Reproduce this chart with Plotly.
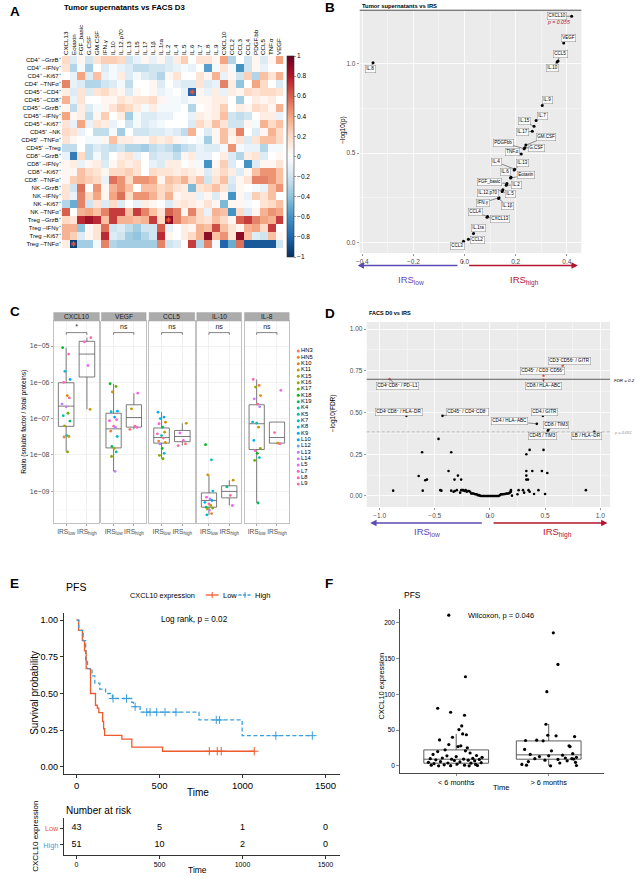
import math
import plotly.graph_objects as go

W, H = 636, 879
FONT = "Liberation Sans, Arial, Helvetica, sans-serif"


def fx(p):
    return p / W


def fy(p):
    return 1 - p / H


# ======================= DATA =======================
# ---- Panel A: correlation heatmap ----
HEAT_COLS = ["CXCL13", "Eotaxin", "FGF_basic", "G.CSF", "GM.CSF", "IFN.γ", "IL.10", "IL.12.p70",
             "IL.13", "IL.15", "IL.17", "IL.1β", "IL.1ra", "IL.2", "IL.4", "IL.5", "IL.6", "IL.7",
             "IL.8", "IL.9", "CXCL10", "CCL2", "CCL3", "CCL4", "PDGF.bb", "CCL5", "TNF.α", "VEGF"]
HEAT_ROWS = ["CD4⁺ –GrzB⁺", "CD4⁺ –IFNγ⁺", "CD4⁺ –Ki67⁺", "CD4⁺ –TNFα⁺", "CD45⁺ –CD4⁺",
             "CD45⁺ –CD8⁺", "CD45⁺ –GrzB⁺", "CD45⁺ –IFNγ⁺", "CD45⁺ –Ki67⁺", "CD45⁺ –NK",
             "CD45⁺ –TNFα⁺", "CD45⁺ –Treg", "CD8⁺ –GrzB⁺", "CD8⁺ –IFNγ⁺", "CD8⁺ –Ki67⁺",
             "CD8⁺ –TNFα⁺", "NK –GrzB⁺", "NK –IFNγ⁺", "NK –Ki67⁺", "NK –TNFα⁺", "Treg –GrzB⁺",
             "Treg –IFNγ⁺", "Treg –Ki67⁺", "Treg –TNFα⁺"]
HEAT_R = [
    [0.2, -0.15, 0.05, -0.2, 0.15, 0.25, 0.25, 0.2, -0.2, -0.1, 0.05, -0.1, 0.05, -0.15, 0.1, 0.25, 0, 0.15, 0.15, 0.05, 0.4, -0.3, 0, -0.2, 0.05, -0.15, 0.05, 0.4],
    [0.15, -0.3, -0.05, -0.35, 0, -0.15, -0.05, -0.1, -0.15, -0.25, -0.25, -0.2, -0.2, -0.15, -0.1, -0.05, -0.1, 0, -0.55, -0.05, 0.15, -0.05, -0.6, -0.2, 0.05, -0.1, 0, 0],
    [0, -0.1, 0.4, -0.15, 0.3, -0.1, -0.05, 0.1, -0.15, -0.05, -0.15, -0.2, -0.3, 0.05, 0.15, 0, 0, 0.15, 0.05, 0.35, -0.1, 0.05, -0.2, 0.25, -0.3, 0.3, 0.15, 0.35],
    [0.5, -0.1, -0.15, -0.3, -0.3, -0.2, -0.15, -0.05, -0.25, 0, 0, 0.05, -0.15, 0, -0.1, -0.15, -0.15, 0.15, -0.15, -0.1, 0.5, 0.1, -0.4, 0, 0.4, 0.2, 0, -0.15],
    [0.1, -0.15, 0.15, -0.15, 0.15, 0.2, 0.1, 0.05, -0.15, 0.05, 0, 0.05, -0.1, -0.05, 0, -0.1, -0.8, 0.05, -0.1, 0.1, -0.1, 0.1, 0.05, 0.2, 0.15, 0.2, 0.2, 0.15],
    [0.35, -0.1, 0.15, 0, 0, 0.05, 0.05, 0.15, 0.1, 0.15, 0.15, 0.2, 0.05, -0.05, -0.05, -0.1, -0.05, 0.05, 0.05, 0.1, 0.1, 0, -0.35, 0, 0.1, 0.05, 0.1, 0],
    [0.05, -0.25, 0.1, -0.15, -0.05, 0.05, 0.15, 0.25, 0.2, 0.1, -0.05, 0.1, -0.05, -0.05, -0.05, 0, -0.3, 0, 0.05, 0.1, 0.25, 0, 0.1, 0.05, 0.2, 0.15, 0.05, 0.35],
    [0.4, 0.05, 0.1, -0.25, 0.05, 0.25, 0, 0.1, -0.35, -0.05, -0.15, -0.15, -0.1, -0.1, 0, 0, -0.1, 0.1, 0.05, 0.1, 0.3, -0.2, -0.25, -0.2, 0, 0.1, 0.1, -0.1],
    [0.15, -0.1, 0.4, -0.1, 0.15, 0.1, -0.1, 0, -0.2, -0.05, -0.15, -0.1, -0.05, 0, 0, 0, -0.15, 0.2, 0.1, 0.3, 0.15, -0.2, -0.2, 0.05, -0.05, 0.35, 0.2, 0.3],
    [0.2, 0.15, -0.1, 0, -0.25, -0.25, -0.05, -0.35, 0, -0.2, -0.2, -0.15, -0.15, -0.1, -0.15, -0.25, 0.35, 0, -0.15, 0.05, 0.3, 0.1, 0.5, 0, -0.15, 0.05, 0.35, 0.2],
    [0.15, 0.05, 0, -0.05, -0.05, 0.05, 0.3, 0.1, 0.1, 0.05, 0.05, 0.15, 0.1, 0.15, 0.05, -0.05, 0, -0.05, -0.35, 0.05, 0.3, 0.05, 0.15, -0.15, 0.15, 0.3, 0.3, 0.2],
    [-0.25, -0.25, 0, -0.25, -0.15, -0.2, -0.25, -0.2, -0.3, -0.3, -0.35, -0.25, -0.2, -0.25, -0.35, -0.25, -0.2, -0.1, -0.15, -0.15, -0.05, 0.45, -0.05, -0.1, -0.1, -0.3, -0.05, -0.05],
    [-0.1, -0.7, 0.2, -0.25, -0.05, -0.2, 0, 0.1, 0.15, -0.1, 0, -0.2, -0.15, -0.15, -0.25, 0.05, 0.1, -0.1, -0.1, 0, 0.1, -0.15, -0.3, 0.1, 0.15, -0.15, 0, 0.05],
    [0.05, 0.1, -0.1, 0.05, 0.1, -0.15, 0.05, 0.15, 0.1, 0.15, 0, -0.1, -0.15, 0.1, 0.1, 0, 0.05, -0.05, -0.6, 0.05, 0.25, -0.15, 0, -0.6, -0.15, 0.05, 0.05, 0.15],
    [0.05, 0.05, 0.3, 0.2, 0.15, 0.05, 0.2, 0.2, 0.25, 0.15, 0, 0.2, 0.15, 0.15, 0.1, 0.15, 0.1, 0.05, -0.15, 0.1, 0.2, 0.1, -0.15, 0.05, 0.3, 0.45, 0.45, 0.3],
    [0.05, 0.25, 0.3, 0.25, 0.2, -0.1, 0.55, 0.45, 0.2, 0.45, 0.45, 0.4, 0.05, 0.3, 0.25, 0.35, 0.15, 0.3, -0.2, 0.15, 0.3, -0.15, 0.05, 0.15, 0.5, 0.5, 0.45, 0.3],
    [0.15, -0.2, 0.55, 0, 0.45, 0.05, 0.35, 0.45, 0.3, 0, 0.3, 0.3, 0.2, 0.25, 0.15, 0.1, -0.45, 0.15, 0.2, 0.3, 0.15, -0.2, 0.05, 0, -0.05, -0.1, 0.3, 0.45],
    [0.15, -0.1, 0.5, 0.2, 0.4, 0.05, 0.4, 0.55, 0.2, 0.45, 0.45, 0.35, 0.2, 0.35, 0.05, 0.1, 0.1, -0.1, 0.05, -0.15, 0.05, -0.6, 0.05, -0.1, 0.25, 0.15, 0.3, 0],
    [-0.3, -0.5, 0.5, -0.2, 0.15, -0.15, 0.2, -0.15, 0, -0.1, 0.1, 0.05, 0, -0.15, 0.1, 0.15, 0.1, 0.05, 0.15, 0.05, -0.45, 0.05, 0.05, -0.05, 0, 0.15, 0.2, 0.3],
    [0.6, 0, 0.35, 0.4, 0.3, 0.5, 0.7, 0.7, 0.3, 0.7, 0.5, 0.3, 0.15, 0.6, 0.5, 0.05, 0.5, 0.2, -0.1, 0.35, 0.3, -0.6, 0.2, -0.15, 0.05, 0.35, 0.45, 0.4],
    [0.2, 0.15, 0.75, 0.85, 0.75, 0.3, 0.7, 0.35, 0.35, 0.3, 0.35, 0.7, 0.2, 0.9, 0.5, 0.35, 0.3, 0.2, 0.15, 0.3, 0.2, 0.05, 0.6, 0.7, 0.5, 0.4, 0.35, 0.7],
    [0.35, 0.35, -0.4, 0.05, 0.15, 0.55, -0.2, -0.15, -0.25, -0.35, -0.2, -0.2, 0.6, -0.1, 0, 0.1, 0.05, 0.35, 0.3, 0.65, 0.3, 0.15, 0.05, 0.35, 0.4, 0.2, 0.7, 0],
    [0.35, 0.25, -0.15, 0.05, 0.15, 0.75, -0.15, -0.2, -0.35, -0.4, -0.3, -0.2, 0.75, 0.05, 0, 0.1, 0.2, 0.35, 0.9, 0.3, 0.45, 0.15, 0.9, 0.3, -0.15, -0.2, 0.3, 0.05],
    [0.1, -0.95, -0.35, -0.35, -0.05, 0.5, -0.3, -0.35, -0.35, -0.35, -0.35, -0.35, 0.5, -0.2, -0.15, 0, 0.7, -0.3, 0.5, -0.05, -0.8, -0.5, 0.55, -0.85, -0.85, -0.85, -0.85, -0.2],
]
HEAT_STAR_ROWS = ["CD45⁺ –CD4⁺", "Treg –GrzB⁺", "Treg –TNFα⁺"]
HEAT_STAR_COLS = ["IL.6", "IL.2", "Eotaxin"]
HEAT_CB_TICKS = [1, 0.8, 0.6, 0.4, 0.2, 0, -0.2, -0.4, -0.6, -0.8, -1]

# ---- Panel B: tumor supernatants vs IRS ----
B_NAMES = ["CXCL10", "VEGF", "CCL5", "IL.10", "IL.8", "IL.9", "IL.7", "IL.15", "IL.17", "GM.CSF",
           "G.CSF", "PDGFbb", "TNF.α", "IL.4", "IL.13", "IL.6", "Eotaxin", "FGF_basic", "IL.2",
           "IL.12.p70", "IL.5", "IFN.γ", "IL.1β", "CCL4", "CXCL13", "IL.1ra", "CCL2", "CCL3"]
B_R = [0.419, 0.388, 0.366, 0.362, -0.358, 0.304, 0.280, 0.272, 0.265, 0.240, 0.236, 0.233, 0.222,
       0.196, 0.194, 0.182, 0.180, 0.166, 0.163, 0.150, 0.147, 0.135, 0.133, 0.090, 0.088, 0.035,
       0.015, -0.004]
B_NLOGP = [1.267, 1.117, 1.017, 1.010, 1.006, 0.767, 0.683, 0.650, 0.622, 0.545, 0.530, 0.525,
           0.495, 0.410, 0.405, 0.365, 0.360, 0.330, 0.320, 0.295, 0.285, 0.250, 0.245, 0.145,
           0.140, 0.050, 0.017, 0.006]
B_P_THRESHOLD = 0.05
B_TOP_P_TEXT = "p = 0.055"

# ---- Panel C: soluble factors per IRS group ----
C_FACETS = ["CXCL10", "VEGF", "CCL5", "IL-10", "IL-8"]
C_SIG = ["*", "ns", "ns", "ns", "ns"]
SAMPLES = ["HN3", "HN5", "K10", "K11", "K15", "K16", "K17", "K18", "K19", "K4", "K5", "K7", "K8",
           "K9", "L10", "L12", "L13", "L14", "L5", "L7", "L8", "L9"]
C_LOW_VALS = {
    "CXCL10": [9.0e-6, 6.0e-6, 2.0e-6, 1.2e-6, 1.0e-6, 4.3e-7, 3.7e-7, 2.5e-7, 2.1e-7, 1.4e-7, 1.2e-7, 8.5e-8, 6.3e-8, 3.4e-8, 3.2e-8, 3.1e-8, 1.2e-8],
    "VEGF": [9.1e-7, 7.7e-7, 5.4e-7, 1.6e-7, 1.55e-7, 1.1e-7, 9.3e-8, 8.7e-8, 6.2e-8, 5.8e-8, 4.5e-8, 3.2e-8, 1.7e-8, 1.5e-8, 1.2e-8, 9.0e-9, 3.5e-9],
    "CCL5": [1.5e-7, 1.1e-7, 1.0e-7, 7.9e-8, 7.2e-8, 5.8e-8, 4.2e-8, 3.8e-8, 3.4e-8, 2.9e-8, 2.4e-8, 2.2e-8, 2.0e-8, 1.5e-8, 1.1e-8, 9.6e-9, 7.8e-9],
    "IL-10": [1.9e-8, 7.3e-9, 2.8e-9, 1.0e-9, 6.8e-10, 6.1e-10, 5.5e-10, 4.9e-10, 4.4e-10, 4.0e-10, 3.6e-10, 3.4e-10, 3.2e-10, 3.0e-10, 2.4e-10, 2.2e-10],
    "IL-8": [1.2e-6, 8.2e-7, 7.4e-7, 4.3e-7, 3.5e-7, 2.5e-7, 2.1e-7, 8.0e-8, 7.5e-8, 5.8e-8, 2.5e-8, 1.5e-8, 1.3e-8, 1.1e-8, 8.4e-9, 7.0e-9, 4.7e-10],
}
C_LOW_SAMPLES = {
    "CXCL10": ["K18", "L7", "K8", "L10", "L8", "K10", "L9", "L13", "L14", "K17", "K5", "K19", "K15", "K7", "K11", "HN5", "K16"],
    "VEGF": ["K18", "K17", "K10", "K9", "K8", "L10", "L8", "L7", "L9", "L14", "HN5", "K7", "K19", "K15", "K5", "K16", "L13"],
    "CCL5": ["K9", "L10", "K8", "K10", "L7", "K19", "K15", "L8", "K5", "L9", "HN5", "K11", "L13", "K18", "K7", "K16", "K17"],
    "IL-10": ["K18", "K5", "K10", "K8", "L7", "L13", "L10", "K9", "L8", "K15", "K19", "K17", "K16", "L14", "HN5", "K7"],
    "IL-8": ["L8", "HN5", "K15", "K10", "L14", "L9", "L13", "K8", "K5", "K11", "K9", "K16", "L7", "K18", "K7", "K17", "K19"],
}
C_HIGH_VALS = {
    "CXCL10": [1.7e-5, 1.3e-5, 2.9e-6, 1.8e-7],
    "VEGF": [5.0e-7, 1.85e-7, 6.2e-8, 5.7e-8, 5.0e-8],
    "CCL5": [7.4e-8, 4.0e-8, 2.5e-8, 2.0e-8, 1.8e-8],
    "IL-10": [2.0e-9, 1.3e-9, 7.6e-10, 4.0e-10],
    "IL-8": [6.0e-7, 4.1e-8, 2.1e-8, 2.0e-8],
}
C_HIGH_SAMPLES = {
    "CXCL10": ["L9", "L7", "L5", "K11"],
    "VEGF": ["L5", "K11", "L9", "L7", "HN3"],
    "CCL5": ["K11", "L5", "L7", "HN3", "L9"],
    "IL-10": ["K11", "K4", "L9", "L5"],
    "IL-8": ["L5", "L9", "K11", "L7"],
}
# box statistics: lower whisker, q1, median, q3, upper whisker
C_BOX_LOW = {
    "CXCL10": [1.2e-8, 6.1e-8, 2.2e-7, 9.7e-7, 9.0e-6],
    "VEGF": [3.5e-9, 1.55e-8, 5.2e-8, 1.4e-7, 9.1e-7],
    "CCL5": [7.8e-9, 2.1e-8, 3.0e-8, 5.5e-8, 1.5e-7],
    "IL-10": [2.2e-10, 3.6e-10, 5.5e-10, 8.9e-10, 2.8e-9],
    "IL-8": [4.7e-10, 1.4e-8, 7.2e-8, 2.4e-7, 1.2e-6],
}
C_BOX_HIGH = {
    "CXCL10": [1.8e-7, 1.4e-6, 6.0e-6, 1.35e-5, 1.7e-5],
    "VEGF": [5.0e-8, 5.8e-8, 1.07e-7, 2.4e-7, 5.0e-7],
    "CCL5": [1.8e-8, 2.3e-8, 3.2e-8, 4.7e-8, 7.4e-8],
    "IL-10": [4.0e-10, 6.5e-10, 9.8e-10, 1.4e-9, 2.0e-9],
    "IL-8": [2.0e-8, 2.1e-8, 3.0e-8, 8.0e-8, 8.0e-8],
}

# ---- Panel D: FACS D0 vs IRS ----
D_LAB_NAMES = ["CD3⁺CD56⁺ / GITR", "CD45⁺ / CD3⁻CD56⁺", "CD8 / HLA−ABC", "CD4⁺CD8⁺ / PD−L1",
               "CD4⁺CD8⁺ / HLA−DR", "CD45⁺ / CD4⁻CD8⁻", "CD4 / GITR", "CD4 / HLA−ABC",
               "CD8 / TIM3", "CD45 / TIM3", "LB / HLA−DR"]
D_LAB_R = [0.658, 0.486, 0.486, -0.91, -0.757, -0.43, 0.48, 0.425, 0.53, 0.525, 0.946]
D_LAB_Y = [0.780, 0.720, 0.696, 0.700, 0.480, 0.480, 0.480, 0.432, 0.396, 0.390, 0.384]
D_LAB_SIG = [True, True, True, True, False, False, False, False, False, False, False]
D_LEFT_R = [-0.877, -0.646, -0.615, -0.609, -0.586, -0.571, -0.466, -0.45, -0.44, -0.375, -0.351,
            -0.351, -0.33, -0.321, -0.318, -0.30, -0.29, -0.27, -0.261, -0.26, -0.25, -0.24, -0.23,
            -0.22, -0.21, -0.20, -0.19, -0.18]
D_LEFT_Y = [0.032, 0.120, 0.262, 0.032, 0.094, 0.098, 0.342, 0.035, 0.032, 0.150, 0.262, 0.032,
            0.025, 0.098, 0.030, 0.035, 0.122, 0.020, 0.098, 0.035, 0.035, 0.035, 0.030, 0.035,
            0.025, 0.030, 0.030, 0.025]
D_MID_R = [-0.17, -0.16, -0.15, -0.14, -0.13, -0.12, -0.11, -0.10, -0.09, -0.08, -0.07, -0.06,
           -0.05, -0.04, -0.03, -0.02, -0.01, 0.00, 0.01, 0.02, 0.03, 0.04, 0.05, 0.06, 0.07, 0.08,
           0.09, 0.10, 0.11, 0.12, 0.13, 0.14, 0.15, 0.16, 0.17, 0.18, 0.19]
D_MID_Y = [0.015, 0.015, 0.015, 0.012, 0.010, 0.010, 0.005, 0.005, 0.002, 0.0, 0.0, 0.0, 0.0,
           0.0, 0.0, 0.0, 0.0, 0.0, 0.0, 0.0, 0.0, 0.0, 0.0, 0.0, 0.0, 0.0, 0.005, 0.010, 0.010,
           0.010, 0.012, 0.012, 0.015, 0.015, 0.015, 0.020, 0.025]
D_RIGHT_R = [0.19, 0.20, 0.25, 0.26, 0.30, 0.31, 0.33, 0.33, 0.33, 0.33, 0.345, 0.35, 0.36, 0.36,
             0.384, 0.40, 0.44, 0.471, 0.486, 0.50, 0.52, 0.87]
D_RIGHT_Y = [0.035, 0.002, 0.010, 0.035, 0.035, 0.020, 0.250, 0.150, 0.122, 0.098, 0.098, 0.035,
             0.276, 0.025, 0.150, 0.012, 0.035, 0.150, 0.276, 0.012, 0.138, 0.035]
D_FDR = 0.2
D_DASH_LEVEL = 0.384
D_DASH_TEXT = "p = 0.051"

# ---- Panel E: Kaplan-Meier PFS ----
KM_LOW_T = [0, 12, 35, 48, 58, 84, 114, 125, 134, 157, 163, 169, 273, 333, 518, 1071]
KM_LOW_S = [1.0, 0.93, 0.86, 0.79, 0.67, 0.50, 0.42, 0.40, 0.37, 0.31, 0.26, 0.215, 0.19, 0.135, 0.107, 0.107]
KM_LOW_CENSOR = [800, 848, 872, 1071]
KM_HIGH_T = [0, 14, 40, 55, 66, 93, 110, 140, 175, 216, 333, 343, 383, 738, 998, 1421]
KM_HIGH_S = [1.0, 0.93, 0.86, 0.72, 0.67, 0.62, 0.57, 0.53, 0.50, 0.466, 0.44, 0.41, 0.373, 0.32, 0.213, 0.213]
KM_HIGH_CENSOR = [220, 301, 353, 423, 443, 483, 533, 599, 842, 862, 1201, 1421]
RISK_TIMES = [0, 500, 1000, 1500]
RISK_LOW = [43, 5, 1, 0]
RISK_HIGH = [51, 10, 2, 0]

# ---- Panel F: CXCL10 by PFS group ----
F_GROUPS = ["&lt; 6 months", "&gt; 6 months"]
F_SHORT_Y = [210.9, 124.7, 80.6, 75.0, 70.8, 55.9, 50.7, 44.7, 43.5, 40.0, 36.3, 29.8, 28.0, 27.0,
             25.2, 22.5, 21.0, 20.0, 18.0, 16.0, 14.5, 14.0, 13.0, 12.0, 11.0, 10.5, 10.0, 9.5, 9.3,
             9.0, 8.5, 8.0, 7.5, 7.0, 6.0, 5.5, 5.0, 4.5, 4.0, 3.7, 3.0, 2.5, 2.0, 1.5, 1.0, 1.0,
             0.5, 0.3, 0.0, 0.0]
F_SHORT_DX = [-0.08, 0.10, -0.20, -0.06, 0.09, 0.06, 0.03, 0.07, 0.11, -0.04, -0.18, -0.08, 0.05,
              0.02, 0.12, -0.12, 0.1, -0.2, 0.15, -0.25, 0.22, -0.1, 0.0, 0.28, -0.15, 0.18, -0.28,
              0.08, -0.05, 0.25, -0.22, 0.13, -0.02, 0.2, -0.17, 0.04, -0.3, 0.27, -0.09, 0.16,
              -0.24, 0.01, 0.21, -0.13, 0.09, -0.27, 0.23, -0.06, 0.14, -0.19]
F_LONG_Y = [186.2, 142.0, 103.8, 58.2, 42.8, 42.0, 41.0, 36.0, 35.5, 35.0, 28.0, 27.0, 23.0, 21.0,
            17.0, 16.0, 15.0, 14.0, 13.0, 12.0, 11.0, 10.0, 10.0, 9.5, 9.0, 8.0, 7.0, 6.0, 5.0,
            4.0, 2.0, 1.0, 0.5, 0.0]
F_LONG_DX = [0.05, 0.10, -0.02, -0.03, -0.01, 0.08, 0.28, -0.13, -0.25, -0.06, 0.22, 0.23, -0.26,
             0.03, 0.26, -0.2, 0.15, 0.0, -0.1, 0.3, 0.18, -0.15, 0.25, 0.27, 0.1, -0.04, 0.2,
             -0.22, 0.29, 0.12, -0.29, -0.24, 0.3, 0.02]
F_BOX_SHORT = [0.0, 3.7, 9.3, 22.3, 44.7]
F_BOX_LONG = [0.0, 9.3, 15.4, 34.9, 58.7]


# ======================= STYLE HELPERS =======================
def hcl_hex(h, c=100.0, l=65.0):
    hr = math.radians(h)
    u, v = c * math.cos(hr), c * math.sin(hr)
    xn, yn, zn = 95.047, 100.0, 108.883
    un = 4 * xn / (xn + 15 * yn + 3 * zn)
    vn = 9 * yn / (xn + 15 * yn + 3 * zn)
    yy = yn * ((l + 16) / 116) ** 3
    up, vp = u / (13 * l) + un, v / (13 * l) + vn
    xx = yy * 9 * up / (4 * vp)
    zz = yy * (12 - 3 * up - 20 * vp) / (4 * vp)
    x, y, z = xx / 100, yy / 100, zz / 100
    r = 3.2406 * x - 1.5372 * y - 0.4986 * z
    g = -0.9689 * x + 1.8758 * y + 0.0415 * z
    b = 0.0557 * x - 0.2040 * y + 1.0570 * z

    def gam(t):
        t = 12.92 * t if t <= 0.0031308 else 1.055 * (max(t, 0) ** (1 / 2.4)) - 0.055
        return int(max(0, min(255, round(t * 255))))
    return "#%02x%02x%02x" % (gam(r), gam(g), gam(b))


SAMPLE_COLORS = {s: hcl_hex(15 + 360 * i / len(SAMPLES)) for i, s in enumerate(SAMPLES)}
RDBU = [[0.0, "#053061"], [0.1, "#2166AC"], [0.2, "#4393C3"], [0.3, "#92C5DE"], [0.4, "#D1E5F0"],
        [0.5, "#FFFFFF"], [0.6, "#FDDBC7"], [0.7, "#F4A582"], [0.8, "#D6604D"], [0.9, "#B2182B"],
        [1.0, "#67001F"]]
LOW_COL = "#5B4BB3"
HIGH_COL = "#B3152E"
KM_LOW_COL = "#EF5A2B"
KM_HIGH_COL = "#3A9FDB"
GRAY_TXT = "#4D4D4D"

fig = go.Figure()
annotations = []
shapes = []
layout = dict(width=W, height=H, autosize=False, margin=dict(l=0, r=0, t=0, b=0),
              paper_bgcolor="white", plot_bgcolor="white", hovermode=False,
              font=dict(family=FONT, color="#000"), showlegend=False)


def note(xp, yp, text, size, color="#000", xanchor="left", yanchor="middle", angle=0):
    annotations.append(dict(x=fx(xp), y=fy(yp), xref="paper", yref="paper", text=text,
                            showarrow=False, font=dict(size=size, color=color, family=FONT),
                            xanchor=xanchor, yanchor=yanchor, textangle=angle))


def fmt_neg(v, nd):
    s = f"{v:.{nd}f}"
    return s.replace("-", "−")


# ======================= PANEL A =======================
fig.add_trace(go.Heatmap(
    z=HEAT_R, x=HEAT_COLS, y=HEAT_ROWS, zmin=-1, zmax=1, colorscale=RDBU, xaxis="x", yaxis="y",
    hoverinfo="skip", showscale=True,
    colorbar=dict(x=fx(285), xanchor="left", y=fy(56), yanchor="top", len=(257 - 56) / H,
                  lenmode="fraction", thickness=7, thicknessmode="pixels",
                  tickvals=HEAT_CB_TICKS,
                  ticktext=[fmt_neg(v, 1).replace(".0", "") if v in (0, 1, -1) else fmt_neg(v, 1) for v in HEAT_CB_TICKS],
                  tickfont=dict(size=6.5, color="#000"), ticks="outside", ticklen=2,
                  tickwidth=0.5, outlinewidth=0.6, outlinecolor="#333", xpad=0, ypad=0)))
fig.add_trace(go.Scatter(x=HEAT_STAR_COLS, y=HEAT_STAR_ROWS, mode="markers", xaxis="x", yaxis="y",
                         marker=dict(symbol="asterisk-open", size=4.5,
                                     line=dict(color="white", width=1)),
                         showlegend=False, hoverinfo="skip"))
layout["xaxis"] = dict(domain=[fx(58), fx(281)], anchor="y", side="top", tickangle=-90,
                       tickfont=dict(size=6.2, color="#000"), showgrid=False, zeroline=False,
                       ticks="", type="category", range=[-0.5, len(HEAT_COLS) - 0.5])
layout["yaxis"] = dict(domain=[fy(257), fy(56)], anchor="x", autorange="reversed",
                       tickfont=dict(size=6, color="#000"), showgrid=False, zeroline=False,
                       ticks="", type="category")
note(4, 12, "<b>A</b>", 13.5)
note(58, 8, "<b>Tumor supernatants vs FACS D3</b>", 7.8)

# ======================= PANEL B =======================
shapes.append(dict(type="rect", xref="x2 domain", yref="y2 domain", x0=0, x1=1, y0=0, y1=1,
                   fillcolor="#EBEBEB", line=dict(width=0), layer="below"))
fig.add_trace(go.Scatter(x=B_R, y=B_NLOGP, mode="markers", xaxis="x2", yaxis="y2",
                         marker=dict(size=3, color="#000"), showlegend=False, hoverinfo="skip"))
shapes.append(dict(type="line", xref="x2 domain", yref="y2", x0=0, x1=1,
                   y0=-math.log10(B_P_THRESHOLD), y1=-math.log10(B_P_THRESHOLD),
                   line=dict(color="#555555", width=1.3)))
B_OFFSETS = [(-15, 0), (5, -5), (2, -7), (-5, 6), (-3, 6), (5, -5), (6, -4), (-10, -5), (-10, 1),
             (20, -8), (12, 0), (-21, -6), (-9, -2), (-18, -7), (8, -7), (-6, -5), (15, -3),
             (-17, -1), (10, 0), (-15, 3), (8, 3), (-16, 5), (9, 7), (-12, -4), (13, 2), (5, -5),
             (9, 1), (-6, 5)]
for name, r, yv, (dx, dy) in zip(B_NAMES, B_R, B_NLOGP, B_OFFSETS):
    annotations.append(dict(x=r, y=yv, xref="x2", yref="y2", text=name, showarrow=True,
                            ax=dx, ay=dy, arrowhead=0, arrowwidth=0.5, arrowcolor="#222",
                            standoff=0, font=dict(size=4.5, color="#000", family=FONT),
                            bgcolor="#FAFAFA", bordercolor="#8C8C8C", borderwidth=0.5,
                            borderpad=0.8))
layout["xaxis2"] = dict(domain=[fx(358), fx(581)], anchor="y2", range=[-0.41, 0.457],
                        tickvals=[-0.4, -0.2, 0, 0.2, 0.4],
                        ticktext=[fmt_neg(v, 1) for v in [-0.4, -0.2, 0, 0.2, 0.4]],
                        showgrid=True, gridcolor="white", gridwidth=0.8, zeroline=False,
                        ticks="outside", ticklen=2, tickwidth=0.5, tickcolor="#333",
                        tickfont=dict(size=6.5, color=GRAY_TXT),
                        minor=dict(tickvals=[-0.3, -0.1, 0.1, 0.3], showgrid=True,
                                   gridcolor="white", gridwidth=0.4))
layout["yaxis2"] = dict(domain=[fy(253), fy(9.5)], anchor="x2", range=[-0.06, 1.305],
                        tickvals=[0, 0.5, 1.0], ticktext=["0.0", "0.5", "1.0"],
                        showgrid=True, gridcolor="white", gridwidth=0.8, zeroline=False,
                        ticks="outside", ticklen=2, tickwidth=0.5, tickcolor="#333",
                        tickfont=dict(size=6.5, color=GRAY_TXT),
                        minor=dict(tickvals=[0.25, 0.75], showgrid=True, gridcolor="white",
                                   gridwidth=0.4))
note(321, 8, "<b>B</b>", 13.5)
note(358, 6, "<b>Tumor supernatants vs IRS</b>", 5.8)
note(558, 22, "<i>" + B_TOP_P_TEXT + "</i>", 5.2, color="#B3152E", xanchor="center")
note(341, 130, "−log10(p)", 6.5, angle=-90, xanchor="center")
note(462, 262, "r", 5, xanchor="center")
bar_y = (253 - 265.5) / (253 - 9.5)
annotations.append(dict(x=-0.418, y=bar_y, xref="x2", yref="y2 domain", ax=-0.022, ay=bar_y,
                        axref="x2", ayref="y2 domain", text="", showarrow=True, arrowhead=2,
                        arrowsize=0.9, arrowwidth=1.4, arrowcolor=LOW_COL, standoff=0))
annotations.append(dict(x=0.443, y=bar_y, xref="x2", yref="y2 domain", ax=0.012, ay=bar_y,
                        axref="x2", ayref="y2 domain", text="", showarrow=True, arrowhead=2,
                        arrowsize=0.9, arrowwidth=1.4, arrowcolor=HIGH_COL, standoff=0))
note(410, 280, "IRS<sub>low</sub>", 9.5, color=LOW_COL, xanchor="center")
note(524, 280, "IRS<sub>high</sub>", 9.5, color=HIGH_COL, xanchor="center")

# ======================= PANEL C =======================
C_FACET_PX = [(50, 96), (98, 143), (146, 192), (194, 239), (242, 287)]
JITTER = [-0.17, 0.12, -0.06, 0.19, -0.12, 0.05, 0.15, -0.2, 0.0, 0.09, -0.14, 0.18, -0.08, 0.03,
          0.13, -0.1, 0.07, -0.16]
LOG_TICKS = [1e-9, 1e-8, 1e-7, 1e-6, 1e-5]
LOG_TEXT = ["1e−09", "1e−08", "1e−07", "1e−06", "1e−05"]
LOG_MINOR = [10 ** -9.5, 10 ** -8.5, 10 ** -7.5, 10 ** -6.5, 10 ** -5.5, 10 ** -4.5]
for fi, fac in enumerate(C_FACETS):
    n = 3 + fi
    xa, ya = f"x{n}", f"y{n}"
    x0, x1 = C_FACET_PX[fi]
    layout[f"xaxis{n}"] = dict(domain=[fx(x0), fx(x1)], anchor=ya, range=[0.4, 2.6],
                               tickvals=[1, 2], ticktext=["IRS<sub>low</sub>", "IRS<sub>high</sub>"],
                               tickangle=0, tickfont=dict(size=6.6, color=GRAY_TXT), showgrid=True,
                               gridcolor="#EBEBEB", gridwidth=0.7, zeroline=False, showline=True,
                               mirror=True, linecolor="#B3B3B3", linewidth=0.8, ticks="outside",
                               ticklen=2, tickwidth=0.5, tickcolor=GRAY_TXT)
    layout[f"yaxis{n}"] = dict(domain=[fy(523), fy(321)], anchor=xa, type="log",
                               range=[-9.88, -4.31], tickvals=LOG_TICKS, ticktext=LOG_TEXT,
                               showticklabels=(fi == 0), tickfont=dict(size=7, color=GRAY_TXT),
                               showgrid=True, gridcolor="#EBEBEB", gridwidth=0.7, zeroline=False,
                               showline=True, mirror=True, linecolor="#B3B3B3", linewidth=0.8,
                               ticks="outside" if fi == 0 else "", ticklen=2, tickwidth=0.5,
                               tickcolor=GRAY_TXT,
                               minor=dict(tickvals=LOG_MINOR, showgrid=True, gridcolor="#F4F4F4",
                                          gridwidth=0.4))
    groups = [(C_LOW_VALS[fac], C_LOW_SAMPLES[fac], C_BOX_LOW[fac]),
              (C_HIGH_VALS[fac], C_HIGH_SAMPLES[fac], C_BOX_HIGH[fac])]
    for gi, (vals, samps, box) in enumerate(groups):
        pos = gi + 1
        fig.add_trace(go.Box(x=[pos], lowerfence=[box[0]], q1=[box[1]], median=[box[2]],
                             q3=[box[3]], upperfence=[box[4]], width=0.75, whiskerwidth=0,
                             fillcolor="rgba(255,255,255,0)", line=dict(color="#5A5A5A", width=0.8),
                             boxpoints=False, xaxis=xa, yaxis=ya, showlegend=False,
                             hoverinfo="skip"))
        xs = [pos + JITTER[(i + 3 * gi) % len(JITTER)] for i in range(len(vals))]
        fig.add_trace(go.Scatter(x=xs, y=vals, mode="markers", xaxis=xa, yaxis=ya,
                                 marker=dict(size=2.8, color=[SAMPLE_COLORS[s] for s in samps]),
                                 showlegend=False, hoverinfo="skip"))
    top, bot, lab = 10 ** -4.63, 10 ** -4.69, 10 ** -4.47
    fig.add_trace(go.Scatter(x=[1, 1, 2, 2], y=[bot, top, top, bot], mode="lines", xaxis=xa,
                             yaxis=ya, line=dict(color="#333", width=0.6), showlegend=False,
                             hoverinfo="skip"))
    fig.add_trace(go.Scatter(x=[1.5], y=[lab], mode="text", text=[C_SIG[fi]], xaxis=xa, yaxis=ya,
                             textfont=dict(size=7, color="#222", family=FONT), showlegend=False,
                             hoverinfo="skip"))
    shapes.append(dict(type="rect", xref="paper", yref="paper", x0=fx(x0), x1=fx(x1), y0=fy(321),
                       y1=fy(312.5), fillcolor="#ABABAB", line=dict(color="#ABABAB", width=0.5)))
    note((x0 + x1) / 2, 316.8, fac, 6.6, color="#1A1A1A", xanchor="center")

# legend of samples
fig.add_trace(go.Scatter(x=[0] * len(SAMPLES), y=list(range(len(SAMPLES))), mode="markers+text",
                         text=SAMPLES, textposition="middle right",
                         textfont=dict(size=5.8, color="#000", family=FONT),
                         marker=dict(size=3, color=[SAMPLE_COLORS[s] for s in SAMPLES]),
                         xaxis="x8", yaxis="y8", showlegend=False, hoverinfo="skip"))
layout["xaxis8"] = dict(domain=[fx(294), fx(330)], anchor="y8", range=[-0.5, 8], visible=False)
layout["yaxis8"] = dict(domain=[fy(490), fy(345)], anchor="x8",
                        range=[len(SAMPLES) - 1 + 0.95, -0.95], visible=False)
note(4, 312, "<b>C</b>", 13.5)
note(20, 422, "Ratio (soluble factor / total proteins)", 6.6, angle=-90, xanchor="center")

# ======================= PANEL D =======================
shapes.append(dict(type="rect", xref="x9 domain", yref="y9 domain", x0=0, x1=1, y0=0, y1=1,
                   fillcolor="#EBEBEB", line=dict(width=0), layer="below"))
fdr_level = -math.log10(D_FDR)
shapes.append(dict(type="line", xref="x9 domain", yref="y9", x0=0, x1=1, y0=fdr_level,
                   y1=fdr_level, line=dict(color="#5E5E5E", width=1)))
shapes.append(dict(type="line", xref="x9 domain", yref="y9", x0=0, x1=1, y0=D_DASH_LEVEL,
                   y1=D_DASH_LEVEL, line=dict(color="#A0A0A0", width=0.6, dash="3px,2px")))
for rr, yy in [(D_LEFT_R, D_LEFT_Y), (D_MID_R, D_MID_Y), (D_RIGHT_R, D_RIGHT_Y)]:
    fig.add_trace(go.Scatter(x=rr, y=yy, mode="markers", xaxis="x9", yaxis="y9",
                             marker=dict(size=2.6, color="#000"), showlegend=False,
                             hoverinfo="skip"))
fig.add_trace(go.Scatter(x=D_LAB_R, y=D_LAB_Y, mode="markers", xaxis="x9", yaxis="y9",
                         marker=dict(size=2.6, color=["#F0605A" if s else "#000" for s in D_LAB_SIG]),
                         showlegend=False, hoverinfo="skip"))
D_OFFSETS = [(7, -5), (-1, -5), (0, 6), (8, 7), (-7, -4), (25, -4), (2, -4), (-27, -3), (8, -5),
             (-5, 5), (-8, 4)]
for name, r, yv, (dx, dy) in zip(D_LAB_NAMES, D_LAB_R, D_LAB_Y, D_OFFSETS):
    annotations.append(dict(x=r, y=yv, xref="x9", yref="y9", text=name, showarrow=True, ax=dx,
                            ay=dy, arrowhead=0, arrowwidth=0.5, arrowcolor="#222", standoff=0,
                            font=dict(size=4.6, color="#000", family=FONT), bgcolor="#FAFAFA",
                            bordercolor="#8C8C8C", borderwidth=0.5, borderpad=0.8))
layout["xaxis9"] = dict(domain=[fx(365), fx(610)], anchor="y9", range=[-1.117, 1.09],
                        tickvals=[-1, -0.5, 0, 0.5, 1],
                        ticktext=[fmt_neg(v, 1) for v in [-1, -0.5, 0, 0.5, 1]],
                        showgrid=True, gridcolor="white", gridwidth=0.8, zeroline=False,
                        ticks="outside", ticklen=2, tickwidth=0.5, tickcolor="#333",
                        tickfont=dict(size=6.5, color=GRAY_TXT),
                        minor=dict(tickvals=[-0.75, -0.25, 0.25, 0.75], showgrid=True,
                                   gridcolor="white", gridwidth=0.4))
layout["yaxis9"] = dict(domain=[fy(507), fy(322)], anchor="x9", range=[-0.066, 1.042],
                        tickvals=[0, 0.25, 0.5, 0.75, 1.0],
                        ticktext=["0.00", "0.25", "0.50", "0.75", "1.00"],
                        showgrid=True, gridcolor="white", gridwidth=0.8, zeroline=False,
                        ticks="outside", ticklen=2, tickwidth=0.5, tickcolor="#333",
                        tickfont=dict(size=6.5, color=GRAY_TXT),
                        minor=dict(tickvals=[0.125, 0.375, 0.625, 0.875], showgrid=True,
                                   gridcolor="white", gridwidth=0.4))
note(321, 313, "<b>D</b>", 13.5)
note(365, 313, "<b>FACS D0 vs IRS</b>", 5.5)
note(612, 380, "<i>FDR = 0.2</i>", 4.4)
note(612, 432, "<i>" + D_DASH_TEXT + "</i>", 4, color="#8A8A8A")
note(331, 413, "−log10(FDR)", 6.5, angle=-90, xanchor="center")
note(488, 516, "r", 5, xanchor="center")
bar_y9 = (507 - 523) / (507 - 322)
annotations.append(dict(x=-1.085, y=bar_y9, xref="x9", yref="y9 domain", ax=-0.06, ay=bar_y9,
                        axref="x9", ayref="y9 domain", text="", showarrow=True, arrowhead=2,
                        arrowsize=0.9, arrowwidth=1.4, arrowcolor=LOW_COL, standoff=0))
annotations.append(dict(x=1.065, y=bar_y9, xref="x9", yref="y9 domain", ax=0.02, ay=bar_y9,
                        axref="x9", ayref="y9 domain", text="", showarrow=True, arrowhead=2,
                        arrowsize=0.9, arrowwidth=1.4, arrowcolor=HIGH_COL, standoff=0))
note(426, 532, "IRS<sub>low</sub>", 9.5, color=LOW_COL, xanchor="center")
note(557, 532, "IRS<sub>high</sub>", 9.5, color=HIGH_COL, xanchor="center")


# ======================= PANEL E =======================
def surv_at(ts, ss, t):
    s = ss[0]
    for ti, si in zip(ts, ss):
        if ti <= t:
            s = si
    return s


fig.add_trace(go.Scatter(x=KM_LOW_T, y=KM_LOW_S, mode="lines", line_shape="hv", xaxis="x10",
                         yaxis="y10", line=dict(color=KM_LOW_COL, width=1.3), showlegend=False,
                         hoverinfo="skip"))
fig.add_trace(go.Scatter(x=KM_HIGH_T, y=KM_HIGH_S, mode="lines", line_shape="hv", xaxis="x10",
                         yaxis="y10", line=dict(color=KM_HIGH_COL, width=1.3, dash="4px,2.5px"),
                         showlegend=False, hoverinfo="skip"))
fig.add_trace(go.Scatter(x=KM_LOW_CENSOR, y=[surv_at(KM_LOW_T, KM_LOW_S, t) for t in KM_LOW_CENSOR],
                         mode="markers", xaxis="x10", yaxis="y10",
                         marker=dict(symbol="cross-thin", size=6, line=dict(color=KM_LOW_COL, width=1)),
                         showlegend=False, hoverinfo="skip"))
fig.add_trace(go.Scatter(x=KM_HIGH_CENSOR, y=[surv_at(KM_HIGH_T, KM_HIGH_S, t) for t in KM_HIGH_CENSOR],
                         mode="markers", xaxis="x10", yaxis="y10",
                         marker=dict(symbol="cross-thin", size=6, line=dict(color=KM_HIGH_COL, width=1)),
                         showlegend=False, hoverinfo="skip"))
# manual legend (title, keys, labels)
note(125, 595, "CXCL10 expression", 7.3)
shapes.append(dict(type="line", xref="paper", yref="paper", x0=fx(203), x1=fx(216), y0=fy(595),
                   y1=fy(595), line=dict(color=KM_LOW_COL, width=1.3)))
shapes.append(dict(type="line", xref="paper", yref="paper", x0=fx(236), x1=fx(249), y0=fy(595),
                   y1=fy(595), line=dict(color=KM_HIGH_COL, width=1.3, dash="3px,1.5px")))
shapes.append(dict(type="line", xref="paper", yref="paper", x0=fx(209.5), x1=fx(209.5),
                   y0=fy(592), y1=fy(598), line=dict(color=KM_LOW_COL, width=1)))
shapes.append(dict(type="line", xref="paper", yref="paper", x0=fx(242.5), x1=fx(242.5),
                   y0=fy(592), y1=fy(598), line=dict(color=KM_HIGH_COL, width=1)))
note(218, 595, "Low", 7.5)
note(251, 595, "High", 7.5)

km_axis_common = dict(showline=True, linecolor="#000", linewidth=0.8, ticks="outside", ticklen=3,
                      tickwidth=0.8, tickcolor="#000", showgrid=False, zeroline=False)
layout["xaxis10"] = dict(domain=[fx(60), fx(338)], anchor="y10", range=[-78, 1587],
                         tickvals=RISK_TIMES, tickfont=dict(size=9.5, color="#000"), **km_axis_common)
layout["yaxis10"] = dict(domain=[fy(774), fy(613)], anchor="x10", range=[-0.048, 1.048],
                         tickvals=[0, 0.25, 0.5, 0.75, 1.0],
                         ticktext=["0.00", "0.25", "0.50", "0.75", "1.00"],
                         tickfont=dict(size=9, color="#000"), **km_axis_common)
# risk table
fig.add_trace(go.Scatter(x=RISK_TIMES, y=[1] * len(RISK_TIMES), mode="text",
                         text=[str(v) for v in RISK_LOW], xaxis="x11", yaxis="y11",
                         textfont=dict(size=9, color="#000", family=FONT), showlegend=False,
                         hoverinfo="skip", cliponaxis=False))
fig.add_trace(go.Scatter(x=RISK_TIMES, y=[0] * len(RISK_TIMES), mode="text",
                         text=[str(v) for v in RISK_HIGH], xaxis="x11", yaxis="y11",
                         textfont=dict(size=9, color="#000", family=FONT), showlegend=False,
                         hoverinfo="skip", cliponaxis=False))
layout["xaxis11"] = dict(domain=[fx(60), fx(338)], anchor="y11", range=[-78, 1587],
                         tickvals=RISK_TIMES, tickfont=dict(size=7, color="#000"), **km_axis_common)
layout["yaxis11"] = dict(domain=[fy(855), fy(818)], anchor="x11", range=[-0.59, 1.59],
                         tickvals=[1, 0],
                         ticktext=[f'<span style="color:{KM_LOW_COL}">Low</span>',
                                   f'<span style="color:{KM_HIGH_COL}">High</span>'],
                         tickfont=dict(size=7.3), **km_axis_common)
note(4, 583, "<b>E</b>", 13.5)
note(60, 587, "PFS", 10.5)
note(192, 619, "Log rank, p = 0.02", 8.2, xanchor="center")
note(30, 693, "Survival probability", 10, angle=-90, xanchor="center")
note(195, 792, "Time", 10, xanchor="center")
note(60, 810, "Number at risk", 10)
note(31, 836, "CXCL10 expression", 8, angle=-90, xanchor="center")
note(195, 870, "Time", 8.5, xanchor="center")

# ======================= PANEL F =======================
for pos, box in [(1, F_BOX_SHORT), (2, F_BOX_LONG)]:
    fig.add_trace(go.Box(x=[pos], lowerfence=[box[0]], q1=[box[1]], median=[box[2]], q3=[box[3]],
                         upperfence=[box[4]], width=0.7, whiskerwidth=0, fillcolor="white",
                         line=dict(color="#4A4A4A", width=0.9), boxpoints=False, xaxis="x12",
                         yaxis="y12", showlegend=False, hoverinfo="skip"))
fig.add_trace(go.Scatter(x=[1 + d for d in F_SHORT_DX], y=F_SHORT_Y, mode="markers", xaxis="x12",
                         yaxis="y12", marker=dict(size=3.2, color="#000"), showlegend=False,
                         hoverinfo="skip"))
fig.add_trace(go.Scatter(x=[2 + d for d in F_LONG_DX], y=F_LONG_Y, mode="markers", xaxis="x12",
                         yaxis="y12", marker=dict(size=3.2, color="#000"), showlegend=False,
                         hoverinfo="skip"))
layout["xaxis12"] = dict(domain=[fx(398), fx(604)], anchor="y12", range=[0.387, 2.6],
                         tickvals=[1, 2], ticktext=F_GROUPS, tickfont=dict(size=7.3, color="#000"),
                         showline=True, linecolor="#000", linewidth=0.7, ticks="outside",
                         ticklen=2.5, tickwidth=0.6, showgrid=False, zeroline=False)
layout["yaxis12"] = dict(domain=[fy(773), fy(609)], anchor="x12", range=[-10, 219.5],
                         tickvals=[0, 50, 100, 150, 200], tickfont=dict(size=6.5, color="#000"),
                         showline=True, linecolor="#000", linewidth=0.7, ticks="outside",
                         ticklen=2.5, tickwidth=0.6, showgrid=False, zeroline=False)
note(321, 583, "<b>F</b>", 13.5)
note(401, 595, "PFS", 8.5)
note(500, 615, "Wilcoxon, p = 0.046", 7.5, xanchor="center")
note(379, 686, "CXCL10 expression", 7.5, angle=-90, xanchor="center")
note(500, 787, "Time", 7.5, xanchor="center")

layout["annotations"] = annotations
layout["shapes"] = shapes
fig.update_layout(**layout)
fig.write_html("out.html", config={"displayModeBar": False, "staticPlot": True},
               post_script="document.body.style.margin='0px';document.body.style.padding='0px';")
